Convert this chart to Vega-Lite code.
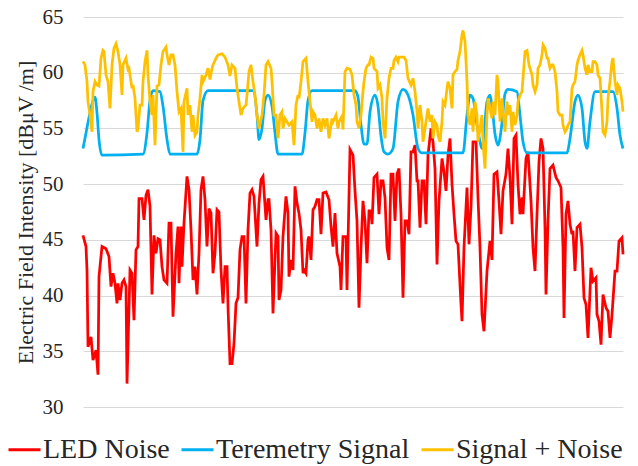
{
  "$schema": "https://vega.github.io/schema/vega-lite/v6.json",
  "width": 540,
  "height": 390,
  "autosize": "none",
  "padding": {"left": 83, "top": 17, "right": 15, "bottom": 59},
  "background": "white",
  "config": {"view": {"stroke": null}, "font": "Liberation Serif"},
  "encoding": {
    "x": {"field": "t", "type": "quantitative", "scale": {"domain": [0, 540], "nice": false, "zero": false}, "axis": null},
    "y": {
      "field": "v", "type": "quantitative",
      "scale": {"domain": [30, 65], "nice": false, "zero": false},
      "axis": {
        "values": [30, 35, 40, 45, 50, 55, 60, 65],
        "title": "Electric Field Intensity [dBμV /m]",
        "grid": true, "gridColor": "#D9D9D9", "gridWidth": 1,
        "domain": false, "ticks": false,
        "labelFont": "Liberation Serif", "labelFontSize": 21, "labelColor": "#262626", "labelPadding": 20,
        "titleFont": "Liberation Serif", "titleFontSize": 22, "titleFontWeight": "normal", "titleColor": "#262626", "titlePadding": 5
      }
    }
  },
  "layer": [
    {
      "data": {"values": [
        {"t":0,"v":45.4},{"t":3,"v":44.4},{"t":4,"v":42.3},{"t":5,"v":35.4},{"t":8,"v":36.3},{"t":10,"v":34.2},{"t":13,"v":35.1},{"t":15,"v":32.9},{"t":16,"v":41.7},{"t":19,"v":44.4},
        {"t":23,"v":44.2},{"t":26,"v":43.5},{"t":28,"v":40.8},{"t":30,"v":42.0},{"t":32,"v":41.1},{"t":34,"v":39.3},{"t":35,"v":41.1},{"t":37,"v":39.6},{"t":39,"v":41.1},{"t":41,"v":41.4},
        {"t":43,"v":40.8},{"t":44,"v":32.1},{"t":47,"v":42.3},{"t":49,"v":42.0},{"t":51,"v":37.8},{"t":53,"v":44.1},{"t":55,"v":44.4},{"t":56,"v":48.7},{"t":59,"v":48.7},{"t":61,"v":46.8},
        {"t":63,"v":49.0},{"t":65,"v":49.5},{"t":67,"v":48.0},{"t":69,"v":40.1},{"t":71,"v":45.4},{"t":73,"v":43.8},{"t":75,"v":45.1},{"t":77,"v":45.0},{"t":79,"v":42.6},{"t":81,"v":41.4},
        {"t":84,"v":41.1},{"t":86,"v":46.5},{"t":88,"v":46.5},{"t":90,"v":38.1},{"t":93,"v":43.8},{"t":95,"v":46.2},{"t":96,"v":41.1},{"t":98,"v":46.2},{"t":99,"v":42.6},{"t":101,"v":46.5},
        {"t":104,"v":50.7},{"t":106,"v":49.5},{"t":108,"v":45.9},{"t":110,"v":41.4},{"t":112,"v":42.6},{"t":114,"v":40.1},{"t":116,"v":43.8},{"t":118,"v":49.5},{"t":120,"v":50.7},{"t":122,"v":48.6},
        {"t":124,"v":44.4},{"t":126,"v":47.8},{"t":128,"v":47.4},{"t":130,"v":42.0},{"t":132,"v":43.8},{"t":134,"v":47.7},{"t":136,"v":47.5},{"t":138,"v":42.3},{"t":140,"v":39.3},{"t":142,"v":42.6},
        {"t":144,"v":42.6},{"t":145,"v":39.0},{"t":147,"v":33.9},{"t":149,"v":33.9},{"t":151,"v":35.7},{"t":153,"v":39.3},{"t":155,"v":39.8},{"t":157,"v":44.1},{"t":159,"v":45.3},{"t":161,"v":45.3},
        {"t":163,"v":39.3},{"t":165,"v":45.9},{"t":167,"v":49.2},{"t":169,"v":49.5},{"t":171,"v":48.9},{"t":174,"v":44.4},{"t":176,"v":48.3},{"t":178,"v":50.4},{"t":180,"v":50.7},{"t":183,"v":46.8},
        {"t":185,"v":48.6},{"t":186,"v":48.6},{"t":188,"v":45.9},{"t":190,"v":38.4},{"t":193,"v":45.6},{"t":195,"v":45.3},{"t":196,"v":39.6},{"t":198,"v":40.5},{"t":200,"v":45.3},{"t":203,"v":48.9},
        {"t":205,"v":47.4},{"t":206,"v":41.7},{"t":208,"v":43.2},{"t":210,"v":42.3},{"t":212,"v":49.8},{"t":214,"v":48.3},{"t":216,"v":47.4},{"t":218,"v":45.9},{"t":220,"v":42.0},{"t":221,"v":42.3},
        {"t":223,"v":42.0},{"t":225,"v":45.0},{"t":226,"v":45.3},{"t":228,"v":43.2},{"t":230,"v":47.7},{"t":232,"v":48.0},{"t":234,"v":48.6},{"t":236,"v":48.6},{"t":238,"v":45.5},{"t":240,"v":49.2},
        {"t":243,"v":49.3},{"t":246,"v":48.6},{"t":248,"v":46.2},{"t":250,"v":44.4},{"t":252,"v":47.4},{"t":254,"v":43.8},{"t":257,"v":42.6},{"t":258,"v":40.5},{"t":260,"v":45.3},{"t":263,"v":45.3},
        {"t":264,"v":40.5},{"t":267,"v":53.1},{"t":270,"v":52.6},{"t":272,"v":49.4},{"t":274,"v":46.7},{"t":276,"v":38.9},{"t":278,"v":44.3},{"t":280,"v":48.5},{"t":282,"v":46.7},{"t":284,"v":42.9},
        {"t":286,"v":47.6},{"t":288,"v":47.6},{"t":289,"v":46.4},{"t":291,"v":50.6},{"t":294,"v":50.9},{"t":296,"v":47.3},{"t":298,"v":50.3},{"t":300,"v":50.3},{"t":302,"v":48.8},{"t":304,"v":44.3},
        {"t":306,"v":43.2},{"t":308,"v":50.9},{"t":310,"v":50.9},{"t":312,"v":46.7},{"t":314,"v":50.9},{"t":316,"v":51.4},{"t":318,"v":47.3},{"t":320,"v":39.8},{"t":322,"v":46.7},{"t":324,"v":46.7},
        {"t":326,"v":45.5},{"t":328,"v":52.9},{"t":330,"v":52.9},{"t":332,"v":53.5},{"t":334,"v":50.3},{"t":335,"v":50.3},{"t":337,"v":46.1},{"t":339,"v":50.3},{"t":341,"v":50.3},{"t":343,"v":46.4},
        {"t":345,"v":52.6},{"t":348,"v":55.0},{"t":350,"v":53.8},{"t":352,"v":51.4},{"t":354,"v":42.8},{"t":356,"v":48.5},{"t":359,"v":52.3},{"t":361,"v":51.1},{"t":363,"v":49.4},{"t":365,"v":52.6},
        {"t":367,"v":54.1},{"t":369,"v":50.0},{"t":371,"v":47.3},{"t":373,"v":44.9},{"t":375,"v":44.6},{"t":378,"v":39.2},{"t":379,"v":37.7},{"t":381,"v":44.3},{"t":384,"v":49.7},{"t":386,"v":44.6},
        {"t":388,"v":47.9},{"t":390,"v":53.8},{"t":393,"v":53.8},{"t":395,"v":48.8},{"t":397,"v":44.3},{"t":399,"v":38.3},{"t":401,"v":36.8},{"t":404,"v":42.2},{"t":407,"v":44.9},{"t":409,"v":43.2},
        {"t":411,"v":50.9},{"t":414,"v":51.1},{"t":416,"v":48.5},{"t":418,"v":45.5},{"t":420,"v":49.4},{"t":423,"v":50.9},{"t":425,"v":53.2},{"t":427,"v":50.6},{"t":429,"v":46.4},{"t":431,"v":54.1},
        {"t":433,"v":54.4},{"t":435,"v":50.0},{"t":437,"v":47.3},{"t":439,"v":48.8},{"t":440,"v":47.3},{"t":443,"v":52.3},{"t":445,"v":52.9},{"t":448,"v":48.5},{"t":450,"v":44.3},{"t":452,"v":42.2},
        {"t":454,"v":47.3},{"t":456,"v":52.0},{"t":458,"v":54.1},{"t":460,"v":53.2},{"t":462,"v":46.1},{"t":463,"v":40.1},{"t":465,"v":46.7},{"t":467,"v":51.4},{"t":470,"v":51.7},{"t":473,"v":50.6},
        {"t":475,"v":50.3},{"t":478,"v":49.7},{"t":480,"v":44.3},{"t":481,"v":38.0},{"t":483,"v":47.3},{"t":485,"v":48.5},{"t":487,"v":46.4},{"t":489,"v":45.5},{"t":490,"v":45.8},{"t":492,"v":42.2},
        {"t":494,"v":46.1},{"t":497,"v":46.4},{"t":499,"v":44.3},{"t":501,"v":39.8},{"t":503,"v":39.2},{"t":505,"v":36.2},{"t":508,"v":42.5},{"t":510,"v":41.3},{"t":513,"v":41.6},{"t":514,"v":38.3},
        {"t":516,"v":37.7},{"t":518,"v":35.6},{"t":520,"v":40.1},{"t":523,"v":38.9},{"t":525,"v":38.6},{"t":527,"v":36.2},{"t":529,"v":38.3},{"t":532,"v":42.2},{"t":534,"v":42.2},{"t":536,"v":44.9},
        {"t":539,"v":45.2},{"t":540,"v":43.7}
      ]},
      "mark": {"type": "line", "strokeWidth": 2.75},
      "encoding": {
        "color": {
          "datum": "LED Noise", "type": "nominal",
          "scale": {"domain": ["LED Noise", "Teremetry Signal", "Signal + Noise"], "range": ["#FF0000", "#00B0F0", "#FFC000"]},
          "legend": {
            "orient": "none", "legendX": -76, "legendY": 415, "direction": "horizontal",
            "title": null, "padding": 0,
            "symbolType": "stroke", "symbolSize": 1024, "symbolStrokeWidth": 3,
            "labelFont": "Liberation Serif", "labelFontSize": 28, "labelColor": "#262626",
            "labelOffset": 1, "columnPadding": 5, "labelLimit": 400
          }
        }
      }
    },
    {
      "data": {"values": [
        {"t":0,"v":53.2},{"t":3,"v":54.6},{"t":7,"v":56.4},{"t":10,"v":57.5},{"t":12,"v":57.8},{"t":14,"v":56.4},{"t":16,"v":54.0},{"t":19,"v":52.6},{"t":60,"v":52.7},{"t":64,"v":54.6},
        {"t":67,"v":57.5},{"t":70,"v":58.4},{"t":77,"v":58.3},{"t":80,"v":57.0},{"t":84,"v":54.0},{"t":87,"v":52.7},{"t":114,"v":52.7},{"t":117,"v":54.0},{"t":120,"v":57.5},{"t":125,"v":58.4},
        {"t":170,"v":58.4},{"t":174,"v":56.2},{"t":176,"v":54.0},{"t":179,"v":55.0},{"t":182,"v":57.5},{"t":185,"v":58.0},{"t":189,"v":57.0},{"t":192,"v":54.6},{"t":195,"v":52.7},{"t":219,"v":52.7},
        {"t":222,"v":54.6},{"t":225,"v":57.5},{"t":229,"v":58.4},{"t":272,"v":58.4},{"t":275,"v":57.8},{"t":278,"v":55.3},{"t":281,"v":53.6},{"t":284,"v":53.6},{"t":287,"v":56.5},{"t":292,"v":58.0},
        {"t":295,"v":57.0},{"t":298,"v":54.3},{"t":301,"v":52.9},{"t":305,"v":52.7},{"t":310,"v":53.2},{"t":315,"v":57.4},{"t":320,"v":58.5},{"t":325,"v":58.0},{"t":330,"v":56.2},{"t":335,"v":53.2},
        {"t":339,"v":52.8},{"t":380,"v":52.8},{"t":384,"v":56.2},{"t":387,"v":58.0},{"t":390,"v":57.7},{"t":394,"v":55.3},{"t":397,"v":53.8},{"t":399,"v":53.2},{"t":404,"v":57.4},{"t":407,"v":58.0},
        {"t":409,"v":57.0},{"t":412,"v":54.5},{"t":415,"v":53.5},{"t":419,"v":55.5},{"t":422,"v":58.1},{"t":425,"v":58.5},{"t":434,"v":58.3},{"t":437,"v":56.2},{"t":440,"v":53.8},{"t":444,"v":52.8},
        {"t":484,"v":52.8},{"t":487,"v":54.1},{"t":492,"v":57.4},{"t":495,"v":58.0},{"t":499,"v":56.8},{"t":502,"v":53.8},{"t":504,"v":53.2},{"t":507,"v":55.6},{"t":512,"v":58.3},{"t":530,"v":58.3},
        {"t":534,"v":56.8},{"t":537,"v":54.4},{"t":540,"v":53.2}
      ]},
      "mark": {"type": "line", "strokeWidth": 2.75, "interpolate": "monotone"},
      "encoding": {"color": {"datum": "Teremetry Signal", "type": "nominal"}}
    },
    {
      "data": {"values": [
        {"t":0,"v":61.0},{"t":2,"v":60.7},{"t":4,"v":59.2},{"t":5,"v":57.4},{"t":7,"v":56.2},{"t":9,"v":54.7},{"t":10,"v":58.3},{"t":12,"v":59.2},{"t":14,"v":58.9},{"t":16,"v":58.8},
        {"t":18,"v":61.3},{"t":20,"v":62.0},{"t":21,"v":61.9},{"t":23,"v":59.8},{"t":25,"v":59.2},{"t":27,"v":56.8},{"t":29,"v":60.7},{"t":31,"v":62.2},{"t":33,"v":62.6},{"t":35,"v":61.9},
        {"t":37,"v":60.7},{"t":39,"v":58.0},{"t":40,"v":60.7},{"t":43,"v":61.3},{"t":45,"v":60.3},{"t":46,"v":60.4},{"t":49,"v":58.6},{"t":50,"v":58.9},{"t":52,"v":57.7},{"t":54,"v":54.7},
        {"t":55,"v":55.0},{"t":57,"v":57.1},{"t":59,"v":57.1},{"t":60,"v":59.2},{"t":62,"v":61.0},{"t":64,"v":62.0},{"t":65,"v":59.8},{"t":67,"v":57.4},{"t":69,"v":56.2},{"t":70,"v":58.0},
        {"t":72,"v":53.5},{"t":74,"v":58.8},{"t":76,"v":58.9},{"t":78,"v":60.7},{"t":80,"v":61.9},{"t":83,"v":62.3},{"t":84,"v":61.6},{"t":86,"v":60.7},{"t":88,"v":61.6},{"t":90,"v":61.6},
        {"t":92,"v":60.7},{"t":94,"v":58.3},{"t":96,"v":56.5},{"t":98,"v":56.8},{"t":100,"v":52.9},{"t":101,"v":57.4},{"t":104,"v":58.6},{"t":105,"v":56.2},{"t":107,"v":57.1},{"t":109,"v":54.7},
        {"t":110,"v":56.2},{"t":112,"v":54.4},{"t":114,"v":54.7},{"t":115,"v":56.2},{"t":117,"v":57.7},{"t":119,"v":59.8},{"t":120,"v":59.2},{"t":123,"v":59.8},{"t":125,"v":60.4},{"t":127,"v":59.4},
        {"t":129,"v":60.4},{"t":130,"v":60.7},{"t":133,"v":61.3},{"t":135,"v":61.6},{"t":139,"v":61.7},{"t":142,"v":61.4},{"t":145,"v":60.7},{"t":147,"v":59.7},{"t":149,"v":60.7},{"t":152,"v":60.4},
        {"t":154,"v":58.6},{"t":156,"v":57.4},{"t":158,"v":56.2},{"t":160,"v":56.8},{"t":163,"v":57.1},{"t":164,"v":58.0},{"t":166,"v":60.1},{"t":168,"v":60.7},{"t":170,"v":59.2},{"t":172,"v":58.0},
        {"t":174,"v":56.2},{"t":176,"v":55.0},{"t":179,"v":56.2},{"t":181,"v":58.0},{"t":183,"v":60.7},{"t":185,"v":61.0},{"t":188,"v":60.4},{"t":189,"v":59.2},{"t":191,"v":56.2},{"t":193,"v":56.2},
        {"t":195,"v":54.1},{"t":197,"v":56.2},{"t":199,"v":56.5},{"t":200,"v":55.0},{"t":202,"v":55.9},{"t":204,"v":55.6},{"t":206,"v":55.3},{"t":209,"v":55.6},{"t":211,"v":53.5},{"t":213,"v":57.1},
        {"t":215,"v":58.0},{"t":216,"v":57.7},{"t":218,"v":59.2},{"t":220,"v":61.0},{"t":223,"v":61.3},{"t":225,"v":59.2},{"t":227,"v":57.4},{"t":229,"v":55.6},{"t":230,"v":56.5},{"t":232,"v":56.2},
        {"t":234,"v":55.0},{"t":236,"v":55.9},{"t":238,"v":54.7},{"t":240,"v":55.9},{"t":242,"v":55.3},{"t":244,"v":55.9},{"t":246,"v":54.1},{"t":249,"v":55.9},{"t":250,"v":55.6},{"t":253,"v":56.2},
        {"t":255,"v":55.0},{"t":256,"v":55.6},{"t":259,"v":56.1},{"t":260,"v":54.9},{"t":262,"v":60.1},{"t":264,"v":60.4},{"t":267,"v":60.3},{"t":269,"v":59.8},{"t":271,"v":58.0},{"t":273,"v":57.1},
        {"t":274,"v":55.6},{"t":276,"v":55.0},{"t":278,"v":56.2},{"t":280,"v":58.3},{"t":281,"v":59.2},{"t":283,"v":60.4},{"t":285,"v":60.7},{"t":286,"v":60.7},{"t":288,"v":61.4},{"t":290,"v":61.3},
        {"t":291,"v":60.4},{"t":294,"v":60.1},{"t":295,"v":58.6},{"t":297,"v":58.9},{"t":299,"v":57.7},{"t":300,"v":55.6},{"t":302,"v":54.1},{"t":304,"v":57.7},{"t":306,"v":59.5},{"t":308,"v":60.4},
        {"t":310,"v":60.4},{"t":311,"v":61.1},{"t":313,"v":61.4},{"t":315,"v":61.0},{"t":316,"v":61.4},{"t":319,"v":61.4},{"t":321,"v":61.4},{"t":323,"v":61.1},{"t":325,"v":59.5},{"t":328,"v":58.9},
        {"t":330,"v":59.5},{"t":332,"v":58.3},{"t":334,"v":56.5},{"t":335,"v":55.0},{"t":337,"v":57.1},{"t":339,"v":55.6},{"t":340,"v":53.8},{"t":342,"v":55.0},{"t":344,"v":56.2},{"t":345,"v":56.8},
        {"t":347,"v":55.6},{"t":349,"v":56.2},{"t":350,"v":54.1},{"t":352,"v":55.6},{"t":354,"v":55.3},{"t":355,"v":54.4},{"t":357,"v":53.8},{"t":359,"v":55.6},{"t":360,"v":57.4},{"t":362,"v":57.1},
        {"t":364,"v":58.6},{"t":365,"v":59.2},{"t":367,"v":58.6},{"t":369,"v":56.8},{"t":370,"v":59.8},{"t":372,"v":60.1},{"t":374,"v":60.3},{"t":375,"v":61.1},{"t":377,"v":61.9},{"t":379,"v":63.4},
        {"t":380,"v":63.8},{"t":382,"v":62.8},{"t":384,"v":59.2},{"t":385,"v":56.2},{"t":387,"v":55.3},{"t":389,"v":56.8},{"t":390,"v":54.7},{"t":392,"v":57.4},{"t":394,"v":56.2},{"t":395,"v":53.8},
        {"t":397,"v":55.0},{"t":399,"v":56.2},{"t":400,"v":53.8},{"t":402,"v":51.4},{"t":404,"v":56.2},{"t":405,"v":57.7},{"t":407,"v":56.8},{"t":409,"v":55.9},{"t":410,"v":57.4},{"t":412,"v":56.2},
        {"t":414,"v":59.8},{"t":415,"v":59.2},{"t":417,"v":55.6},{"t":419,"v":57.7},{"t":420,"v":56.5},{"t":422,"v":54.7},{"t":424,"v":57.4},{"t":425,"v":56.2},{"t":427,"v":57.1},{"t":429,"v":54.7},
        {"t":430,"v":56.5},{"t":432,"v":55.3},{"t":434,"v":56.2},{"t":435,"v":57.4},{"t":437,"v":58.0},{"t":439,"v":58.3},{"t":440,"v":59.5},{"t":442,"v":61.9},{"t":444,"v":62.0},{"t":446,"v":60.7},
        {"t":449,"v":59.8},{"t":450,"v":58.9},{"t":452,"v":58.3},{"t":454,"v":58.9},{"t":455,"v":60.4},{"t":457,"v":60.7},{"t":459,"v":61.6},{"t":460,"v":62.5},{"t":462,"v":62.2},{"t":464,"v":61.3},
        {"t":465,"v":61.3},{"t":467,"v":60.4},{"t":469,"v":60.7},{"t":470,"v":60.7},{"t":472,"v":60.1},{"t":474,"v":58.3},{"t":475,"v":56.5},{"t":477,"v":56.2},{"t":479,"v":56.2},{"t":480,"v":55.3},
        {"t":482,"v":54.7},{"t":484,"v":55.0},{"t":485,"v":55.3},{"t":487,"v":55.6},{"t":489,"v":58.6},{"t":490,"v":58.9},{"t":492,"v":59.2},{"t":494,"v":60.7},{"t":495,"v":61.1},{"t":497,"v":61.6},
        {"t":499,"v":62.0},{"t":500,"v":61.6},{"t":502,"v":60.4},{"t":504,"v":59.8},{"t":505,"v":60.7},{"t":507,"v":60.1},{"t":509,"v":60.1},{"t":510,"v":61.0},{"t":512,"v":61.0},{"t":514,"v":60.7},
        {"t":515,"v":59.8},{"t":517,"v":59.5},{"t":519,"v":56.5},{"t":520,"v":54.7},{"t":522,"v":54.4},{"t":524,"v":55.6},{"t":525,"v":57.7},{"t":527,"v":59.2},{"t":529,"v":61.0},{"t":530,"v":61.3},
        {"t":532,"v":59.2},{"t":534,"v":58.0},{"t":535,"v":58.9},{"t":537,"v":58.6},{"t":539,"v":57.4},{"t":540,"v":56.5}
      ]},
      "mark": {"type": "line", "strokeWidth": 2.75},
      "encoding": {"color": {"datum": "Signal + Noise", "type": "nominal"}}
    }
  ]
}
